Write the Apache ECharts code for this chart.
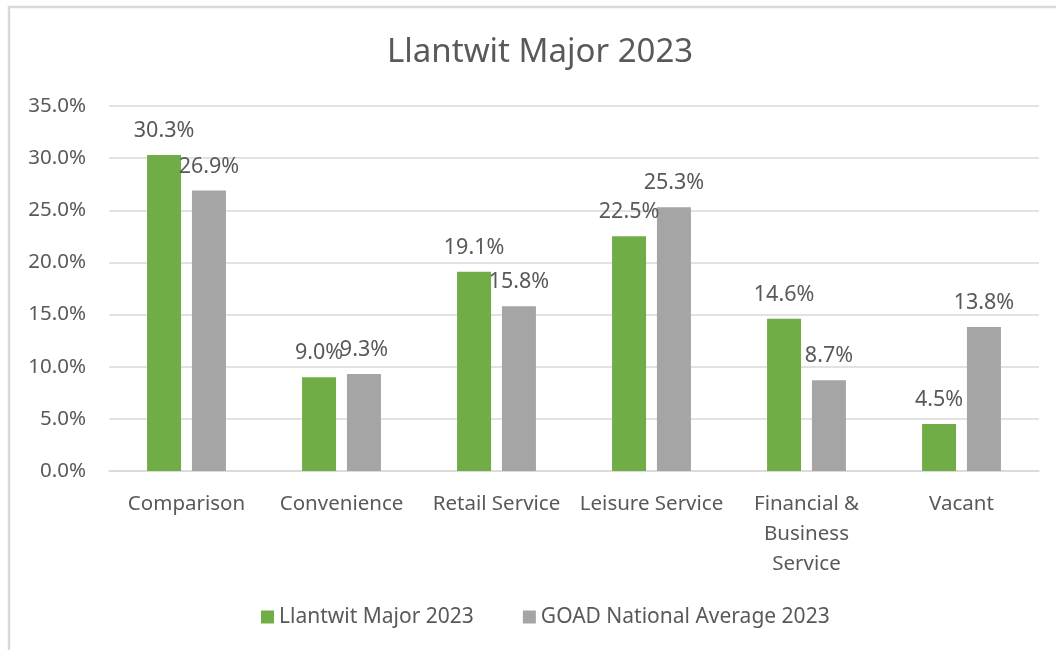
<!DOCTYPE html>
<html>
<head>
<meta charset="utf-8">
<title>Llantwit Major 2023</title>
<script src="https://cdn.jsdelivr.net/npm/echarts@6/dist/echarts.min.js"></script>
<style>
  html, body { margin: 0; padding: 0; background: #ffffff; }
  #chart { width: 1056px; height: 650px; }
</style>
</head>
<body>
<div id="chart"></div>
<script>
// Unit mix by category, in percent
const categories = ['Comparison', 'Convenience', 'Retail Service', 'Leisure Service', 'Financial & Business Service', 'Vacant'];
const categoryLabels = ['Comparison', 'Convenience', 'Retail Service', 'Leisure Service', 'Financial &\nBusiness\nService', 'Vacant'];
const seriesNames = ['Llantwit Major 2023', 'GOAD National Average 2023'];
const llantwitValues = [30.3, 9.0, 19.1, 22.5, 14.6, 4.5];
const goadValues = [26.9, 9.3, 15.8, 25.3, 8.7, 13.8];
const yTicks = [0, 5, 10, 15, 20, 25, 30, 35];

const FONT = '"Noto Sans", "DejaVu Sans", sans-serif';
const TEXT = '#595959';
const LINE = '#d9d9d9';

const chart = echarts.init(document.getElementById('chart'), null, { renderer: 'canvas' });

const pct = v => v.toFixed(1) + '%';

const labelStyle = {
  show: true,
  position: 'top',
  distance: 13,
  fontFamily: FONT,
  fontSize: 21.5,
  color: TEXT,
  formatter: p => pct(p.value)
};

chart.setOption({
  backgroundColor: '#ffffff',
  animation: false,
  textStyle: { fontFamily: FONT },
  graphic: [
    {
      type: 'polyline',
      silent: true,
      shape: { points: [[9, 700], [9, 7], [1060, 7]] },
      style: { stroke: LINE, lineWidth: 2.5, fill: null }
    }
  ],
  title: {
    text: 'Llantwit Major 2023',
    left: 382,
    top: 31,
    textStyle: { fontFamily: FONT, fontSize: 33, fontWeight: 'normal', color: TEXT }
  },
  legend: {
    data: seriesNames,
    left: 256,
    top: 600,
    icon: 'rect',
    itemWidth: 13,
    itemHeight: 13,
    itemGap: 49,
    textStyle: { fontFamily: FONT, fontSize: 21, color: TEXT, lineHeight: 24 }
  },
  grid: { left: 109, right: 17, top: 106, bottom: 179, containLabel: false },
  xAxis: {
    type: 'category',
    data: categories,
    axisLine: { show: true, lineStyle: { color: LINE, width: 1.5 } },
    axisTick: { show: false },
    axisLabel: {
      interval: 0,
      margin: 18,
      fontFamily: FONT,
      fontSize: 20.5,
      color: TEXT,
      lineHeight: 30,
      formatter: (v, i) => categoryLabels[i]
    }
  },
  yAxis: {
    type: 'value',
    min: yTicks[0],
    max: yTicks[yTicks.length - 1],
    interval: 5,
    axisLine: { show: false },
    axisTick: { show: false },
    splitLine: { lineStyle: { color: LINE, width: 1.5 } },
    axisLabel: {
      margin: 23,
      fontFamily: FONT,
      fontSize: 20.5,
      color: TEXT,
      formatter: v => pct(v)
    }
  },
  series: [
    {
      name: seriesNames[0],
      type: 'bar',
      data: llantwitValues,
      barWidth: 34,
      barGap: '32%',
      itemStyle: { color: '#70AD47' },
      label: labelStyle
    },
    {
      name: seriesNames[1],
      type: 'bar',
      data: goadValues,
      barWidth: 34,
      barGap: '32%',
      itemStyle: { color: '#A5A5A5' },
      label: labelStyle
    }
  ]
});
</script>
</body>
</html>
